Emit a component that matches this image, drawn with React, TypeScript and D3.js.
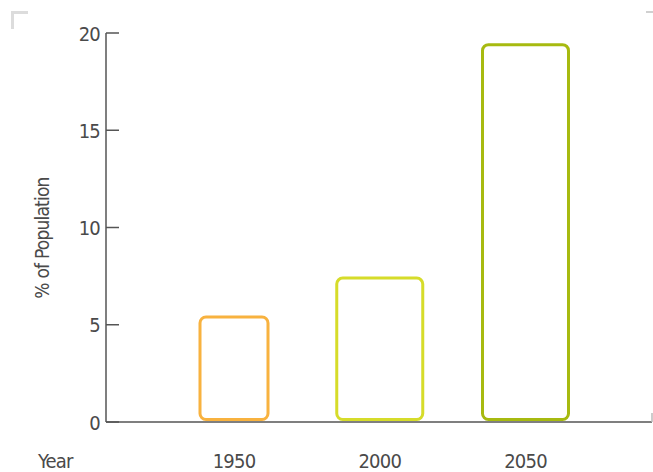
import React from "react";
import * as d3 from "d3";

const years = ["1950", "2000", "2050"];
const values = [5.4, 7.4, 19.4];
const colors = ["#F8B23F", "#D6DC2A", "#A7BA10"];
const yTicks = [0, 5, 10, 15, 20];

const W = 653;
const H = 472;
const FONT = "'DejaVu Sans Condensed', 'DejaVu Sans', sans-serif";

export default function App() {
  const y = d3.scaleLinear().domain([0, 20]).range([422, 33]);
  const x = d3.scalePoint<string>().domain(years).range([234, 525.5]);
  const barW = (i: number) => (i === 0 ? 71 : 89);
  const axisX = 106;
  const textColor = "#4a4a4a";
  const textStyle = { fontStretch: "condensed" as const, letterSpacing: "-0.8px" };

  return (
    <svg
      width={W}
      height={H}
      style={{ position: "absolute", left: 0, top: 0, background: "#fff" }}
      fontFamily={FONT}
    >
      {/* crop marks */}
      <path d="M12.5,29 V12.5 H28" fill="none" stroke="#dcdcdc" strokeWidth={3} />
      <line x1={646} x2={653} y1={12} y2={12} stroke="#d0d0d0" strokeWidth={2} />

      {/* y axis */}
      <line x1={axisX} x2={axisX} y1={y(20)} y2={y(0)} stroke="#555" strokeWidth={1.5} />
      {yTicks.map((t) => (
        <g key={t}>
          <line x1={axisX} x2={axisX + 13} y1={y(t)} y2={y(t)} stroke="#555" strokeWidth={1.5} />
          <text
            x={100}
            y={y(t) + 7.5}
            textAnchor="end"
            fontSize={20}
            fill={textColor}
            style={textStyle}
          >
            {t}
          </text>
        </g>
      ))}

      {/* x baseline */}
      <line x1={axisX} x2={652} y1={y(0)} y2={y(0)} stroke="#555" strokeWidth={1.5} />
      <line x1={652} x2={652} y1={413} y2={y(0)} stroke="#bbb" strokeWidth={1.5} />

      {/* bars */}
      {years.map((yr, i) => {
        const cx = x(yr)!;
        const w = barW(i);
        const top = y(values[i]);
        const bottom = y(0) - 2.5;
        return (
          <rect
            key={yr}
            x={cx - w / 2 + 1.5}
            y={top}
            width={w - 3}
            height={bottom - top}
            rx={6}
            ry={6}
            fill="none"
            stroke={colors[i]}
            strokeWidth={3}
          />
        );
      })}

      {/* x labels */}
      {years.map((yr) => (
        <text key={yr} x={x(yr)} y={468} textAnchor="middle" fontSize={20} fill={textColor} style={textStyle}>
          {yr}
        </text>
      ))}
      <text x={38} y={468} fontSize={20} fill={textColor} style={textStyle}>
        Year
      </text>

      {/* y title */}
      <text
        transform={`translate(49,238) rotate(-90)`}
        textAnchor="middle"
        fontSize={19}
        fill={textColor}
        style={textStyle}
      >
        % of Population
      </text>
    </svg>
  );
}
